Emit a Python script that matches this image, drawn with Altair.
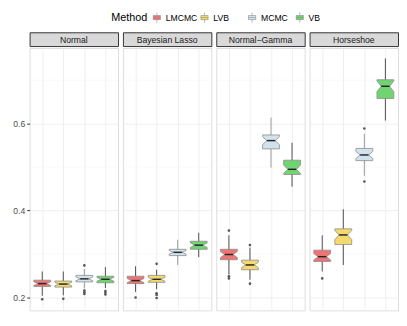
import altair as alt
import pandas as pd

panels = ["Normal", "Bayesian Lasso", "Normal\u2212Gamma", "Horseshoe"]
methods = ["LMCMC", "LVB", "MCMC", "VB"]
legend_title = "Method"
fill_colors = ["#EF7575", "#F4DA6C", "#D1E4EE", "#70D570"]
whisker_colors = ["#4D4D4D", "#4D4D4D", "#9A9A9A", "#4D4D4D"]

# per panel, per method: lower whisker, Q1, median, Q3, upper whisker
lower = [[0.204, 0.205, 0.221, 0.222],
         [0.213, 0.219, 0.275, 0.293],
         [0.253, 0.241, 0.499, 0.455],
         [0.260, 0.275, 0.480, 0.607]]
q1 = [[0.2255, 0.224, 0.236, 0.234],
      [0.232, 0.235, 0.2965, 0.311],
      [0.287, 0.264, 0.542, 0.483],
      [0.283, 0.322, 0.515, 0.658]]
median = [[0.232, 0.231, 0.243, 0.242],
          [0.239, 0.242, 0.304, 0.3205],
          [0.299, 0.275, 0.561, 0.495],
          [0.294, 0.344, 0.528, 0.686]]
q3 = [[0.240, 0.238, 0.251, 0.249],
      [0.249, 0.251, 0.311, 0.3295],
      [0.311, 0.286, 0.574, 0.516],
      [0.309, 0.358, 0.543, 0.701]]
upper = [[0.260, 0.260, 0.266, 0.270],
         [0.272, 0.264, 0.333, 0.349],
         [0.343, 0.315, 0.614, 0.556],
         [0.343, 0.403, 0.577, 0.750]]
outliers = [[[0.196], [0.197], [0.274, 0.216, 0.212, 0.208], [0.215, 0.211, 0.207]],
            [[0.200], [0.2775, 0.210, 0.206, 0.199], [], []],
            [[0.354, 0.249, 0.244], [0.321, 0.232], [], []],
            [[0.244], [], [0.589, 0.467], []]]
n_obs = 30

y_major = [0.2, 0.4, 0.6]
y_minor = [0.3, 0.5, 0.7]
y_domain = [0.1706, 0.774]

FONT = "Liberation Sans"
W, H, SH = 90, 267, 14
ROW_W = 4 * W + 3 * 3
half_w, notch_w = 0.4, 0.2

legend_path = "M0,-1V-0.4M0,0.4V1M-0.7,-0.4H0.7V0.4H-0.7ZM-0.7,0H0.7"

fill_scale = alt.Scale(domain=methods, range=fill_colors)
stroke_scale = alt.Scale(domain=methods, range=whisker_colors)
legend_x = alt.Scale(type="point", domain=methods, range=[129.5, 275], padding=0)


def panel_chart(p):
    box_rows, wh_rows, med_rows, out_rows = [], [], [], []
    for i, m in enumerate(methods):
        c = i + 1
        a, b, md, d, e = lower[p][i], q1[p][i], median[p][i], q3[p][i], upper[p][i]
        notch = 1.58 * (d - b) / n_obs ** 0.5
        pts = [(b, half_w), (md - notch, half_w), (md, notch_w), (md + notch, half_w), (d, half_w)]
        for yy, hw in pts:
            box_rows.append({"Method": m, "y": yy, "x": c - hw, "x2": c + hw})
        wh_rows.append({"Whisker": m, "c": c, "lo": a, "hi": e})
        med_rows.append({"x": c - notch_w, "x2": c + notch_w, "y": md})
        for v in outliers[p][i]:
            out_rows.append({"c": c, "v": v})
    first = p == 0
    yaxis = alt.Axis(values=y_major, labels=first, ticks=first, domain=False, title=None,
                     grid=True, gridColor="#EBEBEB", gridWidth=0.8, labelFont=FONT,
                     labelFontSize=8.8, labelColor="#4D4D4D", tickColor="#333333",
                     tickSize=3, labelPadding=2, format=".1f")
    xscale = alt.Scale(domain=[0.4, 4.6], nice=False, zero=False)
    xaxis = alt.Axis(values=[1, 2, 3, 4], labels=False, ticks=False, domain=False, title=None,
                     grid=True, gridColor="#EBEBEB", gridWidth=0.8)
    yscale = alt.Scale(domain=y_domain, nice=False, zero=False)

    minor = alt.Chart(pd.DataFrame({"y": y_minor})).mark_rule(
        color="#F2F2F2", strokeWidth=0.5).encode(
        y=alt.Y("y:Q", scale=yscale, axis=yaxis))
    wh = alt.Chart(pd.DataFrame(wh_rows)).mark_rule(strokeWidth=1).encode(
        x=alt.X("c:Q", scale=xscale, axis=xaxis),
        y=alt.Y("lo:Q", scale=yscale, axis=yaxis), y2="hi:Q",
        stroke=alt.Stroke("Whisker:N", scale=stroke_scale, legend=None))
    boxes = alt.Chart(pd.DataFrame(box_rows)).mark_area(
        orient="horizontal", stroke="#8C8C8C", strokeWidth=0.8).encode(
        y=alt.Y("y:Q", scale=yscale, axis=yaxis),
        x=alt.X("x:Q", scale=xscale, axis=xaxis, stack=None), x2="x2:Q",
        fill=alt.Fill("Method:N", scale=fill_scale, legend=None))
    meds = alt.Chart(pd.DataFrame(med_rows)).mark_rule(color="#262626", strokeWidth=1.5).encode(
        x=alt.X("x:Q", scale=xscale, axis=xaxis), x2="x2:Q",
        y=alt.Y("y:Q", scale=yscale, axis=yaxis))
    layers = [minor, wh, boxes, meds]
    if out_rows:
        outs = alt.Chart(pd.DataFrame(out_rows)).mark_circle(
            size=7, color="#555555", opacity=1).encode(
            x=alt.X("c:Q", scale=xscale, axis=xaxis),
            y=alt.Y("v:Q", scale=yscale, axis=yaxis))
        layers.append(outs)
    return alt.layer(*layers).properties(width=W, height=H)


def strip_chart(p):
    return alt.Chart(pd.DataFrame({"label": [panels[p]]})).mark_text(
        font=FONT, fontSize=8.8, color="#1A1A1A", baseline="middle", align="center").encode(
        text="label:N", x=alt.value(W / 2), y=alt.value(SH / 2 + 0.5)).properties(
        width=W, height=SH,
        view=alt.ViewBackground(fill="#D9D9D9", stroke="#333333", strokeWidth=1))


# legend drawn as its own small chart
leg_df = pd.DataFrame({"Method": methods})
leg_glyph = alt.Chart(leg_df).mark_point(
    shape=legend_path, size=110, filled=True, stroke="#8C8C8C", strokeWidth=0.6, opacity=1).encode(
    x=alt.X("Method:N", scale=legend_x, axis=None),
    fill=alt.Fill("Method:N", scale=fill_scale, legend=None),
    y=alt.value(5))
leg_text = alt.Chart(leg_df).mark_text(
    font=FONT, fontSize=8.8, color="#000000", align="left", baseline="middle", dx=9).encode(
    x=alt.X("Method:N", scale=legend_x, axis=None), text="Method:N", y=alt.value(5))
leg_title = alt.Chart(pd.DataFrame({"t": [legend_title]})).mark_text(
    font=FONT, fontSize=11, color="#000000", align="left", baseline="middle").encode(
    text="t:N", x=alt.value(83), y=alt.value(5))
legend_chart = alt.layer(leg_title, leg_glyph, leg_text).properties(
    width=ROW_W, height=10, view=alt.ViewBackground(stroke=None, fill=None))

cols = [alt.vconcat(strip_chart(p), panel_chart(p), spacing=0) for p in range(4)]
panels_row = alt.hconcat(*cols, spacing=3)
chart = alt.vconcat(legend_chart, panels_row, spacing=7).properties(
    padding={"left": 4, "top": 0, "right": 0, "bottom": 0}
).configure_view(stroke="#333333", strokeWidth=1, fill="white").configure(background="white")

chart.save("out.html", embed_options={"renderer": "svg", "actions": False})
